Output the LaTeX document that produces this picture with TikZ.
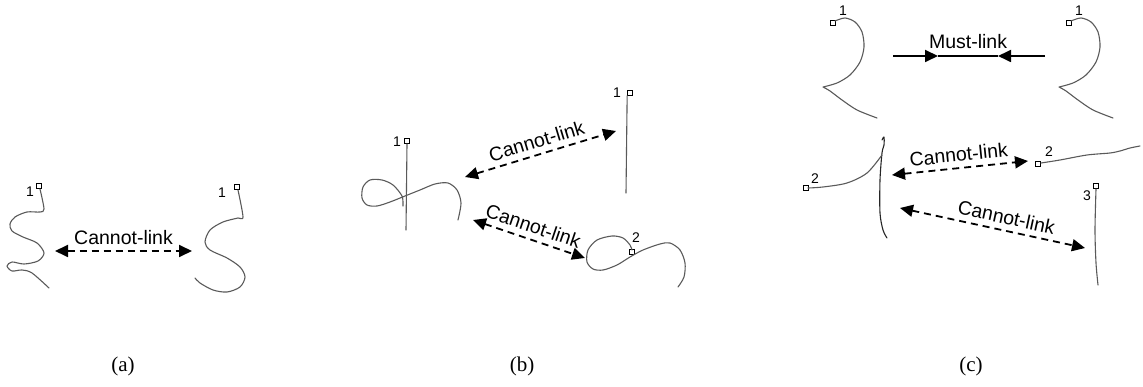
\documentclass[tikz,border=0pt]{standalone}
\usepackage{fontspec}
\setmainfont{Liberation Serif}
\newfontfamily\sansfont{Liberation Sans}
\usetikzlibrary{arrows.meta, positioning}
\definecolor{inkgray}{HTML}{5A5A5A}
\definecolor{inkblack}{HTML}{000000}

\tikzset{
  pen/.style={inkgray, line width=1.1pt, line cap=round, line join=round},
  penstart/.style={draw=inkblack, fill=white, line width=0.7pt, inner sep=0pt, minimum size=5pt},
  penidx/.style={font=\sansfont\fontsize{14}{14}\selectfont, inner sep=0pt},
  cannotlink/.style={{Triangle[length=13pt,width=12pt]}-{Triangle[length=13pt,width=12pt]}, line width=1.8pt, dash pattern=on 7pt off 5pt},
  mustlink/.style={-{Triangle[length=13pt,width=12pt]}, line width=1.8pt},
  linklabel/.style={font=\sansfont\fontsize{19.5}{19.5}\selectfont, sloped, above, inner sep=5.5pt},
  subcap/.style={font=\fontsize{21}{21}\selectfont}
}

\begin{document}
\begin{tikzpicture}[x=1pt, y=-1pt]
  \useasboundingbox (0,0) rectangle (1143,387);

  % (a) two S-shaped strokes
  \node[penstart] (sAL) at (39,186) {};
  \node[penidx] (nAL) at (30,192) {1};
  \draw[pen] plot[smooth] coordinates {(40,189) (44,209) (40,212) (27,212) (15,217) (10,224) (12,231) (23,237) (37,243) (44,253) (38,261) (24,264) (12,262) (7,266) (12,271) (22,270) (32,273) (49,288)};
  \node[penstart] (sAR) at (237,187) {};
  \node[penidx] (nAR) at (222,193) {1};
  \draw[pen] plot[smooth] coordinates {(238,190) (243,217) (238,218) (223,222) (210,230) (205,242) (210,250) (227,258) (240,267) (245,277) (240,287) (227,292) (213,290) (200,283) (195,278)};

  \coordinate (aA1) at (55,251);
  \coordinate (aA2) at (192,251);
  \draw[cannotlink] (aA1) -- node[linklabel] (clA) {Cannot-link} (aA2);

  % (b) crossed loop, bar and wave
  \node[penstart] (sBL) at (407,141) {};
  \node[penidx] (nBL) at (397,142) {1};
  \draw[pen] (sBL.south) -- (406,230);
  \draw[pen] plot[smooth] coordinates {(403,206) (402,196) (393,185) (382,180) (370,180) (363,187) (362,198) (367,205) (377,206) (390,202) (405,196) (420,190) (435,184) (448,183) (457,190) (461,203) (458,220)};
  \node[penstart] (sBT) at (630,93) {};
  \node[penidx] (nBT) at (617,93) {1};
  \draw[pen] (sBT.south west) -- (626,193);
  \node[penstart] (sBB) at (632,252) {};
  \node[penidx] (nBB) at (636,238) {2};
  \draw[pen] plot[smooth] coordinates {(632,250) (630,245) (623,238) (612,236) (597,240) (588,250) (587,262) (593,269) (603,270) (617,265) (630,257) (643,250) (660,244) (670,243) (680,250) (685,263) (684,277) (678,287)};

  \coordinate (bU1) at (465,177);
  \coordinate (bU2) at (616,131);
  \draw[cannotlink] (bU1) -- node[linklabel] (clB1) {Cannot-link} (bU2);
  \coordinate (bD1) at (473,220);
  \coordinate (bD2) at (585,258);
  \draw[cannotlink] (bD1) -- node[linklabel] (clB2) {Cannot-link} (bD2);

  % (c) top pair
  \node[penstart] (sCTL) at (833,23) {};
  \node[penidx] (nCTL) at (843,11) {1};
  \draw[pen] plot[smooth] coordinates {(835,21) (845,18) (855,22) (862,32) (864,47) (860,62) (850,75) (837,83) (823,87)}
             plot[smooth] coordinates {(823,87) (830,91) (842,100) (857,110) (877,118)};
  \node[penstart] (sCTR) at (1069,23) {};
  \node[penidx] (nCTR) at (1079,11) {1};
  \draw[pen] plot[smooth] coordinates {(1071,21) (1081,18) (1091,22) (1098,32) (1100,47) (1096,62) (1086,75) (1073,83) (1059,87)}
             plot[smooth] coordinates {(1059,87) (1066,91) (1078,100) (1093,110) (1113,118)};

  \coordinate (mlL) at (893,56);
  \coordinate (mlA) at (938,56);
  \coordinate (mlB) at (998,56);
  \coordinate (mlR) at (1045,56);
  \draw[mustlink] (mlL) -- (mlA);
  \draw[mustlink] (mlR) -- (mlB);
  \draw[line width=1.8pt] (mlA) -- node[linklabel, inner sep=6pt] (mlLabel) {Must-link} (mlB);

  % (c) bottom strokes
  \draw[pen, inkblack!85] plot[smooth] coordinates {(882,140) (884,137) (884,145) (882,153) (880,180) (880,213) (883,230) (887,238)};
  \node[penstart] (sCL) at (806,188) {};
  \node[penidx] (nCL) at (815,179) {2};
  \draw[pen] plot[smooth] coordinates {(808,188) (823,187) (847,183) (867,173) (882,155)};
  \node[penstart] (sCR) at (1038,164) {};
  \node[penidx] (nCR) at (1049,152) {2};
  \draw[pen] plot[smooth] coordinates {(1041,163) (1060,160) (1087,155) (1110,153) (1120,151) (1130,148) (1140,146)};
  \node[penstart] (sC3) at (1096,186) {};
  \node[penidx] (nC3) at (1087,196) {3};
  \draw[pen] plot[smooth] coordinates {(1096,189) (1095,230) (1096,263) (1098,285)};

  \coordinate (cU1) at (892,175);
  \coordinate (cU2) at (1028,161);
  \draw[cannotlink] (cU1) -- node[linklabel] (clC1) {Cannot-link} (cU2);
  \coordinate (cD1) at (900,208);
  \coordinate (cD2) at (1085,248);
  \draw[cannotlink] (cD1) -- node[linklabel, pos=0.56] (clC2) {Cannot-link} (cD2);

  % captions
  \node[subcap] (capA) at (123,366) {(a)};
  \node[subcap] (capB) at (522,366) {(b)};
  \node[subcap] (capC) at (971,366) {(c)};
\end{tikzpicture}
\end{document}
